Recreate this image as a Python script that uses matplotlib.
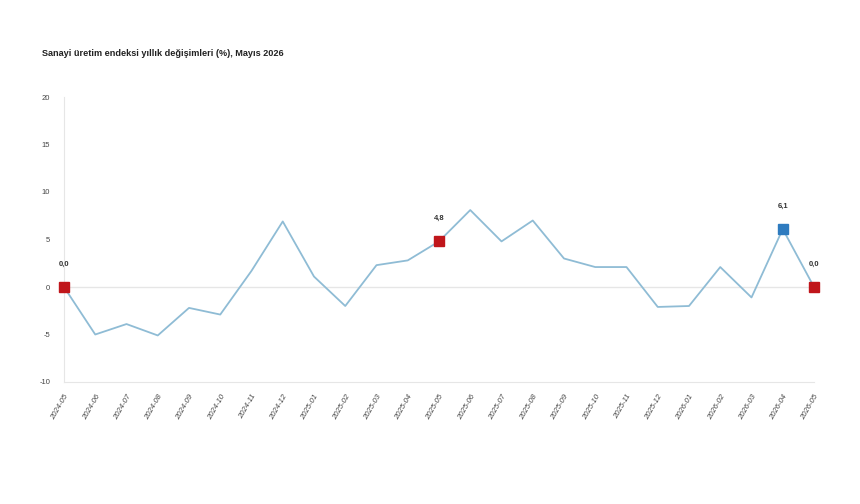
import numpy as np
import matplotlib.pyplot as plt

plt.rcParams['font.family'] = ['Liberation Sans Narrow', 'Liberation Sans', 'DejaVu Sans']

# Sanayi üretim endeksi yıllık değişim (%)
months = ['2024-05', '2024-06', '2024-07', '2024-08', '2024-09', '2024-10',
          '2024-11', '2024-12', '2025-01', '2025-02', '2025-03', '2025-04',
          '2025-05', '2025-06', '2025-07', '2025-08', '2025-09', '2025-10',
          '2025-11', '2025-12', '2026-01', '2026-02', '2026-03', '2026-04',
          '2026-05']
values = [0.0, -5.0, -3.9, -5.1, -2.2, -2.9, 1.7, 6.9, 1.1, -2.0, 2.3, 2.8,
          4.8, 8.1, 4.8, 7.0, 3.0, 2.1, 2.1, -2.1, -2.0, 2.1, -1.1, 6.1, 0.0]

# vurgulanan noktalar: (indeks, renk)
highlight_idx = [0, 12, 23, 24]
highlight_col = ['#c0161b', '#c0161b', '#2e7bbf', '#c0161b']
yticks = [-10, -5, 0, 5, 10, 15, 20]

fig = plt.figure(figsize=(8.6, 5.04), dpi=100)
ax = fig.add_axes([64 / 860, 1 - 382 / 504, 750 / 860, 285 / 504])

x = np.arange(len(months))
ax.plot(x, values, color='#8fbcd5', lw=1.3, zorder=3)
ax.axhline(0, color='#e6e6e6', lw=1.0, zorder=1)

for i, c in zip(highlight_idx, highlight_col):
    ax.plot(x[i], values[i], 's', ms=7, color=c, zorder=4, clip_on=False)
    lbl = f'{values[i]:.1f}'.replace('.', ',')
    ax.annotate(lbl, (x[i], values[i]), xytext=(0, 14), textcoords='offset points',
                ha='center', va='bottom', fontsize=5.5, fontweight='bold', color='#333333')

ax.set_xlim(0, len(months) - 1)
ax.set_ylim(-10, 20)
ax.set_yticks(yticks)
ax.set_yticklabels([str(t) for t in yticks], fontsize=5.5, color='#444444')
ax.set_xticks(x)
ax.set_xticklabels(months, rotation=60, ha='right', rotation_mode='anchor',
                   fontsize=5.5, color='#444444', style='italic')
ax.tick_params(axis='y', length=0, pad=10)
ax.tick_params(axis='x', length=0, pad=8)

for s in ['top', 'right']:
    ax.spines[s].set_visible(False)
ax.spines['left'].set_color('#e6e6e6')
ax.spines['bottom'].set_color('#e6e6e6')

fig.text(42 / 860, 1 - 53 / 504, 'Sanayi üretim endeksi yıllık değişimleri (%), Mayıs 2026',
         fontsize=6.6, fontweight='bold', color='#222222', va='center', ha='left')

fig.savefig('out.png', dpi=100)
